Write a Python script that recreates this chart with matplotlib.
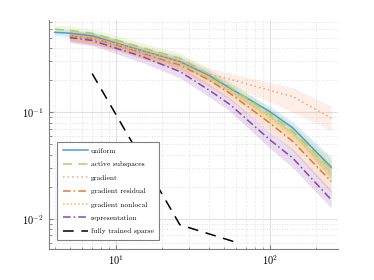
import matplotlib
matplotlib.use("Agg")
import matplotlib.pyplot as plt
import numpy as np

plt.rcParams['font.family'] = 'serif'
plt.rcParams['font.serif'] = ['cmr10', 'DejaVu Serif']
plt.rcParams['mathtext.fontset'] = 'cm'
plt.rcParams['axes.formatter.use_mathtext'] = True
plt.rcParams['axes.unicode_minus'] = False

x_a = [4, 5, 7, 10, 15, 26, 40, 55, 100, 141, 250]
x_b = [5, 7, 10, 15, 26, 40, 55, 100, 141, 250]

uniform = [0.56, 0.55, 0.52, 0.445, 0.375, 0.298, 0.222, 0.168, 0.101, 0.071, 0.0305]
uniform_lo = [0.52, 0.51, 0.48, 0.41, 0.345, 0.27, 0.20, 0.152, 0.09, 0.062, 0.024]
uniform_hi = [0.60, 0.59, 0.56, 0.48, 0.405, 0.33, 0.245, 0.186, 0.113, 0.081, 0.038]

active = [0.60, 0.585, 0.55, 0.476, 0.40, 0.32, 0.228, 0.172, 0.096, 0.066, 0.0295]
active_lo = [0.55, 0.54, 0.50, 0.43, 0.36, 0.285, 0.20, 0.152, 0.084, 0.057, 0.024]
active_hi = [0.65, 0.64, 0.60, 0.525, 0.445, 0.36, 0.255, 0.195, 0.108, 0.076, 0.036]

gradient = [0.53, 0.50, 0.44, 0.375, 0.30, 0.228, 0.204, 0.16, 0.14, 0.088]
gradient_lo = [0.47, 0.44, 0.39, 0.33, 0.265, 0.20, 0.178, 0.125, 0.10, 0.067]
gradient_hi = [0.59, 0.56, 0.495, 0.42, 0.34, 0.26, 0.232, 0.19, 0.17, 0.114]

residual = [0.52, 0.49, 0.428, 0.355, 0.277, 0.201, 0.15, 0.079, 0.053, 0.0224]
residual_lo = [0.46, 0.43, 0.38, 0.315, 0.245, 0.175, 0.13, 0.066, 0.043, 0.0176]
residual_hi = [0.58, 0.55, 0.48, 0.40, 0.315, 0.23, 0.172, 0.094, 0.065, 0.030]

nonlocal_ = [0.52, 0.495, 0.435, 0.36, 0.285, 0.21, 0.16, 0.09, 0.062, 0.027]
nonlocal_lo = [0.465, 0.44, 0.39, 0.32, 0.255, 0.185, 0.14, 0.078, 0.053, 0.022]
nonlocal_hi = [0.58, 0.55, 0.485, 0.40, 0.32, 0.235, 0.18, 0.103, 0.072, 0.033]

representation = [0.50, 0.47, 0.398, 0.33, 0.24, 0.162, 0.118, 0.055, 0.037, 0.0151]
representation_lo = [0.45, 0.42, 0.355, 0.29, 0.21, 0.14, 0.102, 0.046, 0.030, 0.0127]
representation_hi = [0.55, 0.52, 0.44, 0.37, 0.27, 0.185, 0.136, 0.065, 0.045, 0.0187]

x_sparse = [7, 26, 61]
sparse = [0.23, 0.0088, 0.006]

c_uniform = '#4a9fd4'
c_active = '#a6d26a'
c_grad = '#f4a582'
c_resid = '#e8743b'
c_nonloc = '#f0c040'
c_repr = '#8e44ad'

fig = plt.figure(figsize=(3.74, 2.80), dpi=100)
ax = fig.add_axes([0.131, 0.111, 0.773, 0.818])

series = [
    (x_a, uniform, uniform_lo, uniform_hi, c_uniform, '-', 'uniform'),
    (x_a, active, active_lo, active_hi, c_active, (0, (6, 4)), 'active subspaces'),
    (x_b, gradient, gradient_lo, gradient_hi, c_grad, (0, (1, 2)), 'gradient'),
    (x_b, residual, residual_lo, residual_hi, c_resid, (0, (5, 2, 1, 2)), 'gradient residual'),
    (x_b, nonlocal_, nonlocal_lo, nonlocal_hi, c_nonloc, (0, (1, 1.5)), 'gradient nonlocal'),
    (x_b, representation, representation_lo, representation_hi, c_repr, (0, (5, 2, 1, 2)), 'representation'),
]
for xs, ys, lo, hi, c, ls, lab in series:
    ax.fill_between(xs, lo, hi, color=c, alpha=0.18, linewidth=0)
for xs, ys, lo, hi, c, ls, lab in series:
    ax.plot(xs, ys, color=c, linestyle=ls, linewidth=1.1, label=lab)
ax.plot(x_sparse, sparse, color='black', linestyle=(0, (7, 5)), linewidth=1.1,
        label='fully trained sparse')

ax.set_xscale('log')
ax.set_yscale('log')
ax.set_xlim(3.67, 277)
ax.set_ylim(0.00523, 0.733)

ax.grid(True, which='major', color='#e0e0e0', linewidth=0.8, linestyle='-')
ax.grid(True, which='minor', color='#d8d8d8', linewidth=0.6, linestyle=(0, (1, 2)))
ax.set_axisbelow(True)
for s in ['top', 'right']:
    ax.spines[s].set_visible(False)
for s in ['left', 'bottom']:
    ax.spines[s].set_color('#808080')
    ax.spines[s].set_linewidth(0.8)
ax.tick_params(which='both', direction='in', color='#808080', labelsize=7.5)
ax.tick_params(which='major', length=3)
ax.tick_params(which='minor', length=1.8)
ax.yaxis.set_minor_formatter(matplotlib.ticker.NullFormatter())
ax.xaxis.set_minor_formatter(matplotlib.ticker.NullFormatter())

leg = ax.legend(loc='lower left', bbox_to_anchor=(0.028, 0.039), borderaxespad=0,
                fontsize=5.4, frameon=True, fancybox=False, edgecolor='#808080',
                handlelength=3.4, borderpad=0.75, labelspacing=0.95,
                handletextpad=0.35)
leg.get_frame().set_linewidth(0.8)
leg.get_frame().set_alpha(1)

fig.savefig('out.png', dpi=100)
